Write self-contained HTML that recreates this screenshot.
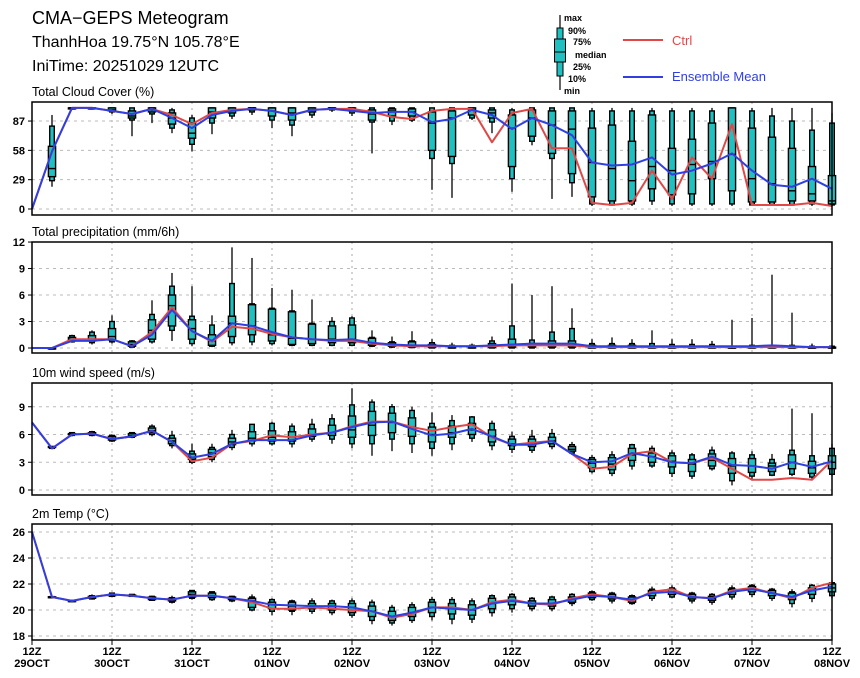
<!DOCTYPE html>
<html><head><meta charset="utf-8">
<style>
html,body{margin:0;padding:0;background:#fff;}
svg{display:block;font-family:"Liberation Sans",sans-serif;}
.tk{font-size:11px;font-weight:bold;fill:#000;}
.pt{font-size:12.5px;fill:#000;}
</style></head>
<body>
<svg id="chart" width="860" height="678" viewBox="0 0 860 678">
<text x="32" y="24" font-size="18">CMA−GEPS Meteogram</text>
<text x="32" y="47" font-size="16">ThanhHoa 19.75°N 105.78°E</text>
<text x="32" y="71" font-size="16">IniTime: 20251029 12UTC</text>
<g>
  <line x1="560" y1="15" x2="560" y2="90" stroke="#000" stroke-width="1.2"/>
  <rect x="557" y="28" width="6" height="48" fill="#20c0c0" stroke="#000"/>
  <rect x="554.5" y="39" width="11" height="23" fill="#20c0c0" stroke="#000"/>
  <line x1="554" y1="52" x2="566" y2="52" stroke="#000"/>
  <g font-size="9" font-weight="bold">
  <text x="564" y="21">max</text><text x="568" y="34">90%</text><text x="573" y="45">75%</text>
  <text x="575" y="58">median</text><text x="573" y="70">25%</text><text x="568" y="82">10%</text><text x="564" y="94">min</text></g>
  <line x1="623" y1="40" x2="663" y2="40" stroke="#e04848" stroke-width="2"/>
  <text x="672" y="45" font-size="13" fill="#e04848">Ctrl</text>
  <line x1="623" y1="77" x2="663" y2="77" stroke="#3040e0" stroke-width="2"/>
  <text x="672" y="81" font-size="13" fill="#3040e0">Ensemble Mean</text>
</g>
</svg>
<script>
const days=["29OCT","30OCT","31OCT","01NOV","02NOV","03NOV","04NOV","05NOV","06NOV","07NOV","08NOV"];
const cloudTicks=[0,29,58,87];
const precipTicks=[0,3,6,9,12];
const windTicks=[0,3,6,9];
const tempTicks=[18,20,22,24,26];

const cloudCtrl=[0,57,100,100,97,94,99,93,84,95,98,99,97,93,98,99,99,96,91,89,97,99,99,66,95,99,60,60,6,4,6,38,10,51,30,84,4,4,4,6,3];
const cloudMean=[0,57,100,100,97,94,99,90,80,93,97,99,97,93,98,99,97,95,96,96,86,89,98,93,79,90,83,73,46,43,44,51,34,38,45,55,38,24,22,30,20];
const cloudBoxes=[[22,28,32,40,62,82,93],[98,99,99,100,100,100,100],[99,99,100,100,100,100,100],[94,96,97,98,100,100,100],[72,88,90,92,97,100,100],[85,94,96,98,100,100,100],[75,80,84,90,95,98,100],[57,64,70,75,85,90,93],[74,85,90,96,100,100,100],[89,92,95,98,100,100,100],[93,96,98,100,100,100,100],[80,88,92,97,100,100,100],[72,83,88,95,100,100,100],[90,93,96,98,100,100,100],[96,98,99,100,100,100,100],[92,95,97,99,100,100,100],[55,86,88,94,98,100,100],[83,87,92,97,99,100,100],[86,88,92,96,99,100,100],[19,50,58,85,96,100,100],[11,45,52,90,97,100,100],[88,90,93,98,100,100,100],[75,86,90,95,98,100,100],[17,30,42,80,93,98,100],[63,67,72,90,98,100,100],[10,50,55,83,97,100,100],[12,26,35,79,97,100,100],[3,5,12,46,80,97,100],[3,4,8,40,83,97,100],[3,5,8,28,67,97,100],[4,8,20,42,93,97,100],[3,5,14,38,60,97,100],[3,5,15,44,69,97,100],[3,5,30,47,85,97,100],[3,5,18,54,100,100,100],[3,4,7,30,80,97,100],[3,4,7,25,71,92,100],[3,4,8,18,60,87,100],[3,5,8,15,42,78,100],[3,4,5,8,33,85,95]];

const precipCtrl=[0,0,1.0,1.0,1.0,0.2,1.8,4.6,1.9,0.7,2.4,2.2,1.6,1.2,1.0,0.8,0.8,0.5,0.3,0.2,0.2,0.2,0.2,0.2,0.3,0.3,0.3,0.3,0.1,0.1,0.1,0.1,0.1,0.1,0.1,0.1,0.1,0.1,0.1,0.1,0.1];
const precipMean=[0,0,0.8,0.8,1.0,0.2,1.5,4.3,1.9,0.8,2.8,2.5,1.8,1.2,1.0,0.9,1.0,0.6,0.4,0.3,0.3,0.2,0.2,0.3,0.4,0.5,0.5,0.5,0.2,0.2,0.2,0.2,0.2,0.2,0.2,0.2,0.2,0.3,0.2,0.1,0.1];
const precipBoxes=[[0,0,0,0,0,0,0],[0.6,0.7,0.8,1.0,1.2,1.4,1.5],[0.4,0.6,0.8,1.0,1.4,1.8,2.0],[0.5,0.7,0.9,1.3,2.2,3.0,3.7],[0.1,0.1,0.2,0.4,0.7,0.8,0.9],[0.5,0.7,1.0,2.0,3.2,3.8,5.4],[0.8,2.0,2.5,4.8,6.0,7.0,8.5],[0.2,0.5,1.0,2.2,3.2,3.6,7.0],[0.1,0.2,0.3,0.8,1.5,2.6,3.7],[0.3,0.6,1.3,2.8,3.6,7.3,11.4],[0.3,0.7,1.5,2.5,4.9,5.0,10.2],[0.3,0.5,0.8,1.5,4.4,4.5,6.8],[0.2,0.3,0.4,1.1,4.1,4.2,6.6],[0.2,0.3,0.5,1.0,2.7,2.8,5.5],[0.2,0.3,0.6,1.0,2.5,3.0,3.5],[0.2,0.3,0.6,1.0,2.6,3.4,3.6],[0.1,0.2,0.3,0.6,1.1,1.2,2.0],[0,0.1,0.2,0.3,0.6,0.7,1.3],[0,0.05,0.1,0.3,0.7,0.8,1.9],[0,0,0.05,0.2,0.4,0.6,1.0],[0,0,0,0.1,0.2,0.3,0.6],[0,0,0,0.1,0.2,0.3,0.5],[0,0,0.05,0.2,0.5,0.8,1.3],[0,0,0.1,0.3,1.0,2.5,7.3],[0,0,0.1,0.2,0.5,0.9,6.0],[0,0,0.1,0.3,0.8,1.8,7.0],[0,0,0.1,0.3,0.8,2.2,4.5],[0,0,0,0.1,0.3,0.5,1.0],[0,0,0,0.1,0.3,0.5,1.2],[0,0,0,0.05,0.3,0.5,1.0],[0,0,0,0.05,0.2,0.5,2.0],[0,0,0,0.05,0.2,0.4,1.0],[0,0,0,0.05,0.2,0.4,1.0],[0,0,0,0.05,0.2,0.4,0.8],[0,0,0,0,0.1,0.2,3.2],[0,0,0,0.05,0.2,0.3,3.4],[0,0,0,0.05,0.2,0.3,8.3],[0,0,0,0.05,0.2,0.3,4.0],[0,0,0,0,0.1,0.2,0.5],[0,0,0,0,0.1,0.2,0.3]];

const windCtrl=[7.3,4.5,6.0,6.1,5.5,5.8,6.4,5.2,3.1,3.5,5.0,5.3,5.9,5.7,6.0,6.2,6.9,7.4,7.4,6.8,6.4,6.8,7.1,5.7,4.9,5.1,5.3,3.9,2.3,2.5,3.9,4.2,3.0,2.9,3.5,2.3,1.1,1.1,1.3,1.1,3.2];
const windMean=[7.3,4.5,6.0,6.1,5.5,5.8,6.4,5.2,3.5,3.9,5.0,5.4,5.4,5.4,5.9,6.2,6.8,7.3,7.4,6.6,5.9,6.1,6.6,5.8,4.9,4.9,5.3,3.9,3.0,3.1,4.0,3.6,3.0,2.9,3.6,2.7,2.6,2.3,3.0,2.5,3.1];
const windBoxes=[[4.5,4.5,4.6,4.6,4.7,4.7,4.7],[5.8,5.9,6.0,6.0,6.1,6.2,6.2],[5.8,5.9,6.0,6.1,6.2,6.3,6.4],[5.2,5.3,5.4,5.6,5.8,5.9,6.0],[5.6,5.7,5.8,5.9,6.1,6.2,6.2],[5.8,6.0,6.2,6.4,6.7,6.9,7.1],[4.5,4.8,5.0,5.3,5.6,5.9,6.4],[2.8,3.0,3.3,3.5,3.9,4.2,5.0],[3.0,3.3,3.6,4.0,4.4,4.6,5.0],[4.3,4.6,4.9,5.2,5.6,6.0,6.5],[4.7,5.0,5.3,5.6,6.3,7.1,7.1],[4.8,5.0,5.3,5.7,6.4,7.2,7.4],[4.6,5.0,5.3,5.7,6.3,6.9,7.2],[5.2,5.5,5.8,6.0,6.6,7.1,7.7],[5.0,5.5,5.9,6.2,7.0,7.7,8.2],[4.5,5.0,5.7,6.5,8.0,9.2,11.0],[3.7,5.0,5.9,7.0,8.5,9.5,9.8],[4.2,5.5,6.2,7.3,8.3,9.0,9.3],[4.0,5.0,5.8,6.8,7.8,8.6,9.0],[3.7,4.5,5.2,6.0,6.8,7.2,8.4],[4.3,5.0,5.7,6.2,6.9,7.5,8.1],[5.2,5.6,6.0,6.5,7.2,7.9,8.0],[4.3,4.8,5.2,5.8,6.5,7.2,7.5],[4.0,4.4,4.8,5.0,5.5,5.8,6.3],[4.0,4.3,4.7,5.0,5.5,5.8,6.5],[4.4,4.7,5.0,5.3,5.7,6.1,6.6],[3.8,4.0,4.2,4.4,4.7,4.9,5.2],[1.8,2.0,2.4,2.9,3.3,3.5,3.8],[1.5,1.8,2.2,2.8,3.5,3.8,4.2],[2.2,2.6,3.2,3.8,4.5,4.9,5.0],[2.4,2.6,3.0,3.6,4.0,4.5,4.8],[1.4,1.8,2.5,3.1,3.7,4.0,4.3],[1.2,1.5,2.0,2.8,3.3,3.8,4.0],[2.1,2.3,2.6,3.2,3.9,4.3,4.7],[0.5,1.0,1.8,2.6,3.4,4.0,4.2],[1.2,1.5,1.9,2.6,3.4,3.8,4.2],[1.5,1.6,2.0,2.6,2.9,3.3,3.9],[1.5,1.7,2.3,3.0,3.8,4.3,8.8],[1.2,1.4,1.8,2.4,3.1,3.7,8.3],[1.5,1.7,2.3,3.0,3.7,4.5,5.0]];

const tempCtrl=[26.0,21.0,20.7,21.0,21.2,21.1,20.9,20.8,21.1,21.1,20.9,20.6,20.1,20.1,20.2,20.1,20.0,19.9,19.4,19.7,20.2,20.2,20.0,20.6,20.8,20.5,20.4,20.9,21.2,21.0,20.7,21.4,21.6,21.0,20.9,21.5,21.7,21.3,20.9,21.7,22.1];
const tempMean=[26.0,21.0,20.7,21.0,21.2,21.1,20.9,20.8,21.1,21.1,20.9,20.7,20.4,20.35,20.3,20.3,20.2,19.9,19.5,19.8,20.2,20.1,20.0,20.5,20.7,20.5,20.5,20.8,21.1,21.0,20.8,21.3,21.4,21.0,20.9,21.4,21.6,21.3,21.0,21.5,21.8];
const tempBoxes=[[20.95,20.97,20.98,21.0,21.02,21.03,21.05],[20.6,20.65,20.68,20.7,20.72,20.75,20.8],[20.8,20.85,20.9,21.0,21.05,21.1,21.2],[21.0,21.05,21.1,21.15,21.2,21.3,21.3],[21.0,21.05,21.1,21.1,21.15,21.2,21.2],[20.7,20.75,20.8,20.9,21.0,21.05,21.1],[20.5,20.6,20.7,20.8,20.9,20.95,21.1],[20.8,20.9,21.0,21.2,21.4,21.5,21.5],[20.7,20.8,20.95,21.1,21.3,21.4,21.4],[20.6,20.7,20.8,20.9,21.0,21.05,21.1],[19.9,20.0,20.2,20.7,20.9,21.0,21.2],[19.6,19.9,20.1,20.4,20.6,20.8,20.9],[19.6,19.9,20.0,20.3,20.6,20.7,20.8],[19.7,19.9,20.1,20.3,20.5,20.7,20.9],[19.6,19.8,20.0,20.3,20.5,20.7,20.8],[19.4,19.6,19.8,20.2,20.5,20.7,20.9],[18.9,19.2,19.5,19.9,20.3,20.6,20.8],[18.8,19.0,19.2,19.5,19.9,20.2,20.4],[19.0,19.2,19.5,19.8,20.2,20.4,20.6],[19.2,19.5,19.8,20.2,20.6,20.8,21.0],[18.9,19.3,19.7,20.1,20.5,20.8,21.0],[19.0,19.3,19.6,20.0,20.4,20.7,20.9],[19.5,19.8,20.1,20.5,20.9,21.1,21.2],[19.8,20.1,20.4,20.7,21.0,21.2,21.3],[19.9,20.1,20.3,20.5,20.7,20.9,21.0],[19.9,20.1,20.3,20.5,20.8,21.0,21.1],[20.3,20.5,20.6,20.8,21.0,21.2,21.3],[20.7,20.8,20.95,21.1,21.3,21.4,21.5],[20.5,20.7,20.85,21.0,21.2,21.3,21.4],[20.4,20.5,20.6,20.8,21.0,21.1,21.2],[20.7,20.9,21.1,21.3,21.5,21.6,21.8],[20.9,21.0,21.2,21.4,21.6,21.7,21.9],[20.5,20.7,20.85,21.0,21.2,21.3,21.4],[20.4,20.6,20.75,20.9,21.05,21.2,21.3],[20.8,21.0,21.2,21.4,21.6,21.7,21.9],[21.0,21.2,21.4,21.6,21.8,21.9,22.0],[20.7,20.9,21.1,21.3,21.5,21.6,21.7],[20.2,20.5,20.8,21.0,21.3,21.4,21.6],[20.6,20.9,21.2,21.5,21.7,21.9,22.0],[20.9,21.1,21.4,21.7,22.0,22.1,22.3]];

const NS="http://www.w3.org/2000/svg";
const svg=document.getElementById("chart");
const X0=32,X1=832;
function xAt(i){return X0+i*20;}
function mk(tag,attrs,parent){const e=document.createElementNS(NS,tag);for(const k in attrs)e.setAttribute(k,attrs[k]);(parent||svg).appendChild(e);return e;}

const panels=[
 {key:"cloud",title:"Total Cloud Cover (%)",top:102,bot:215,v0:0,y0:209,s:1.011,ticks:cloudTicks,ctrl:cloudCtrl,mean:cloudMean,boxes:cloudBoxes},
 {key:"precip",title:"Total precipitation (mm/6h)",top:242,bot:353,v0:0,y0:348,s:8.83,ticks:precipTicks,ctrl:precipCtrl,mean:precipMean,boxes:precipBoxes},
 {key:"wind",title:"10m wind speed (m/s)",top:383,bot:495,v0:0,y0:490,s:9.25,ticks:windTicks,ctrl:windCtrl,mean:windMean,boxes:windBoxes},
 {key:"temp",title:"2m Temp (°C)",top:524,bot:640,v0:18,y0:636,s:13,ticks:tempTicks,ctrl:tempCtrl,mean:tempMean,boxes:tempBoxes}
];

panels.forEach(p=>{
 const yAt=v=>Math.max(p.top+1,Math.min(p.bot-1,p.y0-(v-p.v0)*p.s));
 const g=mk("g",{});
 
 
 const t=mk("text",{x:X0,y:p.top-6,class:"pt"},g);t.textContent=p.title;
 
 
 for(let d=1;d<days.length-1;d++){
  const gl=mk("line",{x1:X0+d*80,x2:X0+d*80,y1:p.top,y2:p.bot,stroke:"#aaa","stroke-dasharray":"2,4","stroke-width":1},g);
  
  
 }
 p.ticks.forEach(v=>{
  const y=p.y0-(v-p.v0)*p.s;
  const gl=mk("line",{x1:X0,x2:X1,y1:y,y2:y,stroke:"#bbb","stroke-dasharray":"3,4","stroke-width":1},g);
  
  
  mk("line",{x1:X0-4,x2:X0,y1:y,y2:y,stroke:"#000"},g);
  const tl=mk("text",{x:X0-7,y:y+4,class:"tk","text-anchor":"end"},g);tl.textContent=v;
  
  
 });
 p.boxes.forEach((b,k)=>{
  const x=xAt(k+1);
  const bg=mk("g",{},g);
  
  
  mk("line",{x1:x,x2:x,y1:yAt(b[0]),y2:yAt(b[6]),stroke:"#000","stroke-width":1.3},bg);
  const a=yAt(b[5]),c=yAt(b[1]);
  mk("rect",{x:x-2.3,y:a,width:4.6,height:Math.max(1,c-a),fill:"#20c0c0",stroke:"#000","stroke-width":1.4},bg);
  const a2=yAt(b[4]),c2=yAt(b[2]);
  mk("rect",{x:x-3.6,y:a2,width:7.2,height:Math.max(1,c2-a2),fill:"#20c0c0",stroke:"#000","stroke-width":1.4},bg);
  mk("line",{x1:x-3.6,x2:x+3.6,y1:yAt(b[3]),y2:yAt(b[3]),stroke:"#000","stroke-width":1.4},bg);
 });
 const pts=arr=>arr.map((v,i)=>xAt(i)+","+yAt(v).toFixed(1)).join(" ");
 const lc=mk("polyline",{points:pts(p.ctrl),fill:"none",stroke:"#e04848","stroke-width":2,"stroke-linejoin":"round"},g);
 
 
 const lm=mk("polyline",{points:pts(p.mean),fill:"none",stroke:"#3040e0","stroke-width":2,"stroke-linejoin":"round"},g);
 
 
 const fr=mk("rect",{x:X0,y:p.top,width:X1-X0,height:p.bot-p.top,fill:"none",stroke:"#000","stroke-width":1.5},g);
 
 
});
days.forEach((d,i)=>{
 const x=X0+i*80;
 mk("line",{x1:x,x2:x,y1:640,y2:645,stroke:"#000"});
 const t1=mk("text",{x:x,y:655,class:"tk","text-anchor":"middle"});t1.textContent="12Z";
 
 
 const t2=mk("text",{x:x,y:667,class:"tk","text-anchor":"middle"});t2.textContent=d;
 
 
});
</script>
</body></html>
